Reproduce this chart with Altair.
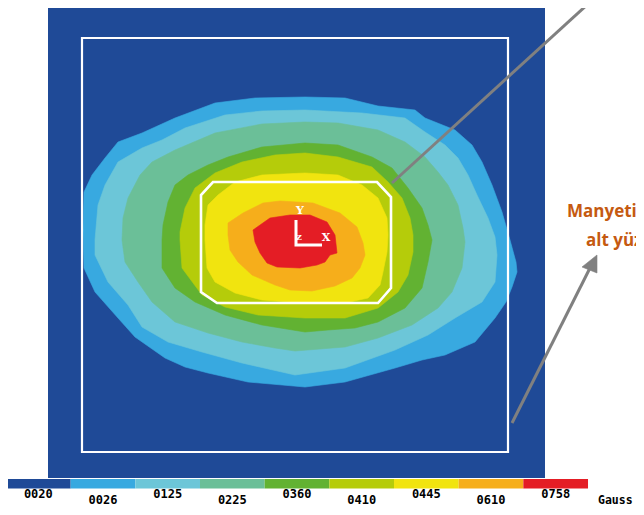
import altair as alt
import pandas as pd

# ---- legend levels (Gauss) and band colours ----
levels = ["0020", "0026", "0125", "0225", "0360", "0410", "0445", "0610", "0758"]
colors = ["#1F4A97", "#38A9E0", "#6CC6D8", "#6BBF98", "#62B232",
          "#B5CC0A", "#F1E40F", "#F6AE1B", "#E41D25"]

# ---- plate, frame and magnet outline (plate coordinates, mm) ----
plate_x = [-248, 249]
plate_y = [-248, 226]
frame_x = [-214, 212, 212, -214]
frame_y = [192, 192, -222, -222]
magnet_x = [-83, 81, 95, 95, 82, -79, -95, -95]
magnet_y = [48, 48, 33, -58, -73, -73, -62, 35]

# ---- iso-field contour outlines (outer edge of each band) ----
c0026_x = [-212, -204, -191, -178, -154, -121, -81, -41, 9, 49, 82, 119, 129, 159, 176, 186, 196, 206,
           214, 220, 221, 216, 210, 199, 179, 149, 126, 99, 49, 9, -48, -88, -111, -131, -161, -178, -201, -212, -213]
c0026_y = [38, 55, 72, 88, 97, 112, 127, 132, 133, 132, 124, 120, 112, 100, 85, 68, 45, 18,
           -10, -32, -42, -57, -72, -88, -112, -125, -130, -138, -152, -157, -152, -143, -137, -128, -107, -88, -62, -38, 0]
c0125_x = [-201, -198, -191, -178, -154, -134, -111, -71, -34, 9, 66, 109, 129, 149, 162, 172, 181, 192,
           199, 201, 199, 186, 159, 132, 99, 49, -1, -54, -94, -128, -154, -168, -188, -201]
c0125_y = [-10, 25, 45, 68, 82, 90, 102, 115, 119, 120, 117, 112, 98, 85, 72, 55, 35, 12,
           -7, -25, -52, -72, -88, -105, -120, -138, -145, -133, -122, -112, -97, -75, -52, -25]
c0225_x = [-174, -173, -168, -156, -144, -121, -81, -34, 9, 42, 82, 109, 129, 142, 152, 162, 167, 169,
           166, 156, 142, 116, 82, 49, -1, -21, -54, -88, -121, -144, -158, -171]
c0225_y = [-10, 12, 32, 55, 68, 80, 97, 106, 108, 107, 100, 88, 73, 58, 45, 25, 2, -12,
           -38, -62, -78, -95, -108, -117, -121, -118, -112, -103, -92, -72, -52, -32]
c0360_x = [-134, -133, -128, -121, -108, -88, -68, -34, 9, 42, 76, 96, 112, 126, 132, 136,
           132, 126, 109, 82, 59, 32, 9, -34, -71, -101, -121, -134]
c0360_y = [-10, 5, 28, 45, 55, 65, 73, 83, 87, 85, 73, 62, 42, 22, 5, -10,
           -32, -58, -78, -92, -98, -100, -102, -95, -85, -72, -58, -38]
c0410_x = [-116, -116, -111, -101, -81, -54, -21, 9, 42, 76, 92, 106, 114, 117, 117, 112, 102, 82,
           49, 9, -38, -71, -94, -114]
c0410_y = [-10, -2, 22, 42, 57, 68, 75, 77, 73, 63, 48, 32, 12, -5, -22, -45, -62, -78,
           -88, -88, -85, -77, -65, -38]
c0445_x = [-91, -91, -88, -78, -61, -34, 9, 42, 66, 82, 91, 92, 91, 87, 84, 72, 49, 9, -34, -61, -81, -89]
c0445_y = [-10, 5, 25, 35, 48, 55, 57, 55, 45, 32, 12, -5, -22, -42, -55, -68, -73, -73, -70, -63, -52, -38]
c0610_x = [-68, -53, -33, -16, 17, 44, 61, 67, 69, 64, 56, 39, 16, -6, -21, -44, -58, -66, -68]
c0610_y = [7, 17, 27, 29, 27, 17, 3, -13, -25, -38, -48, -56, -61, -60, -55, -45, -32, -20, -5]
c0758_x = [-43, -26, -6, 14, 31, 39, 41, 34, 29, 21, 4, -19, -29, -36, -41]
c0758_y = [0, 12, 15, 15, 8, -5, -23, -25, -32, -35, -38, -37, -33, -23, -12]

# ---- coordinate triad and annotations ----
triad_x = [0, 0, 26]
triad_y = [10, -15, -15]
triad_labels = ["Y", "X", "Z"]
triad_lx = [4, 30, 3]
triad_ly = [19, -8, -8]
arrow1_x = [96, 304]
arrow1_y = [47, 237]
arrow2_x = [216, 294]
arrow2_y = [-193, -38]
head2_x = [301, 286, 301]
head2_y = [-25, -37, -43]
note_lines = ["Manyetik", "alt yüzey"]
note_x = [271, 290]
note_y = [13, -16]

W, H = 628, 499
XS = alt.Scale(domain=[-288, 340], nice=False, zero=False)
YS = alt.Scale(domain=[-277, 222], nice=False, zero=False)
CB = alt.Scale(domain=[0.031, 9.742], nice=False, zero=False)


def xe(f="x"):
    return alt.X(f"{f}:Q", scale=XS, axis=None)


def ye(f="y"):
    return alt.Y(f"{f}:Q", scale=YS, axis=None)


def poly(xs, ys, fill):
    df = pd.DataFrame({"x": xs, "y": ys, "i": list(range(len(xs)))})
    return alt.Chart(df).mark_line(
        fill=fill, stroke=fill, strokeWidth=0.6, interpolate="linear-closed"
    ).encode(x=xe(), y=ye(), order="i:Q")


def outline(xs, ys, color, w, closed=True):
    df = pd.DataFrame({"x": xs, "y": ys, "i": list(range(len(xs)))})
    return alt.Chart(df).mark_line(
        stroke=color, strokeWidth=w, interpolate="linear-closed" if closed else "linear",
        strokeJoin="miter", clip=True
    ).encode(x=xe(), y=ye(), order="i:Q")


plate_df = pd.DataFrame({"x": [plate_x[0]], "x2": [plate_x[1]], "y": [plate_y[0]], "y2": [plate_y[1]]})
plate = alt.Chart(plate_df).mark_rect(color=colors[0], clip=True).encode(
    x=xe(), x2="x2:Q", y=ye(), y2="y2:Q")

contours = [
    poly(c0026_x, c0026_y, colors[1]),
    poly(c0125_x, c0125_y, colors[2]),
    poly(c0225_x, c0225_y, colors[3]),
    poly(c0360_x, c0360_y, colors[4]),
    poly(c0410_x, c0410_y, colors[5]),
    poly(c0445_x, c0445_y, colors[6]),
    poly(c0610_x, c0610_y, colors[7]),
    poly(c0758_x, c0758_y, colors[8]),
]

frame = outline(frame_x, frame_y, "white", 2.2)
magnet = outline(magnet_x, magnet_y, "white", 2.6)
triad = outline(triad_x, triad_y, "white", 3, closed=False)
triad_txt = alt.Chart(pd.DataFrame({"x": triad_lx, "y": triad_ly, "t": triad_labels,
                                    "s": [11, 11, 8]})).mark_text(
    font="DejaVu Serif", fontWeight="bold", color="white", baseline="middle", align="center"
).encode(x=xe(), y=ye(), text="t:N", size=alt.Size("s:Q", scale=None, legend=None))

arrow1 = outline(arrow1_x, arrow1_y, "#808080", 3, closed=False)
arrow2 = outline(arrow2_x, arrow2_y, "#808080", 3, closed=False)
head2 = poly(head2_x, head2_y, "#808080")

notes = alt.Chart(pd.DataFrame({"x": note_x, "y": note_y, "t": note_lines})).mark_text(
    font="Open Sans", fontWeight="bold", fontSize=17, color="#C55A11",
    align="left", baseline="alphabetic", clip=True
).encode(x=xe(), y=ye(), text="t:N")

# ---- colour bar ----
cb_df = pd.DataFrame({"level": levels, "color": colors, "idx": list(range(len(levels)))})
cb_base = alt.Chart(cb_df).transform_calculate(
    i1="datum.idx + 1", mid="datum.idx + 0.5", ly="datum.idx % 2 == 0 ? 490 : 496")
cb_rect = cb_base.mark_rect().encode(
    x=alt.X("idx:Q", scale=CB, axis=None), x2="i1:Q",
    y=alt.value(471), y2=alt.value(480.5),
    color=alt.Color("color:N", scale=None, legend=None))
cb_text = cb_base.mark_text(
    font="DejaVu Sans Mono", fontWeight="bold", fontSize=12, color="black",
    align="center", baseline="alphabetic"
).encode(x=alt.X("mid:Q", scale=CB, axis=None), y=alt.Y("ly:Q", scale=None, axis=None),
         text="level:N")
unit = alt.Chart(pd.DataFrame({"t": ["Gauss"]})).mark_text(
    font="DejaVu Sans Mono", fontWeight="bold", fontSize=11.5, color="black",
    align="left", baseline="alphabetic"
).encode(x=alt.value(590), y=alt.value(496), text="t:N")

chart = alt.layer(
    plate, *contours, frame, magnet, triad, triad_txt, arrow1, arrow2, head2, notes,
    cb_rect, cb_text, unit
).resolve_scale(x="independent", y="independent").properties(
    width=W, height=H, padding=0,
    autosize=alt.AutoSizeParams(type="none"), background="white"
).configure_view(stroke=None)

chart.save("out.html", embed_options={"renderer": "svg", "actions": False})
